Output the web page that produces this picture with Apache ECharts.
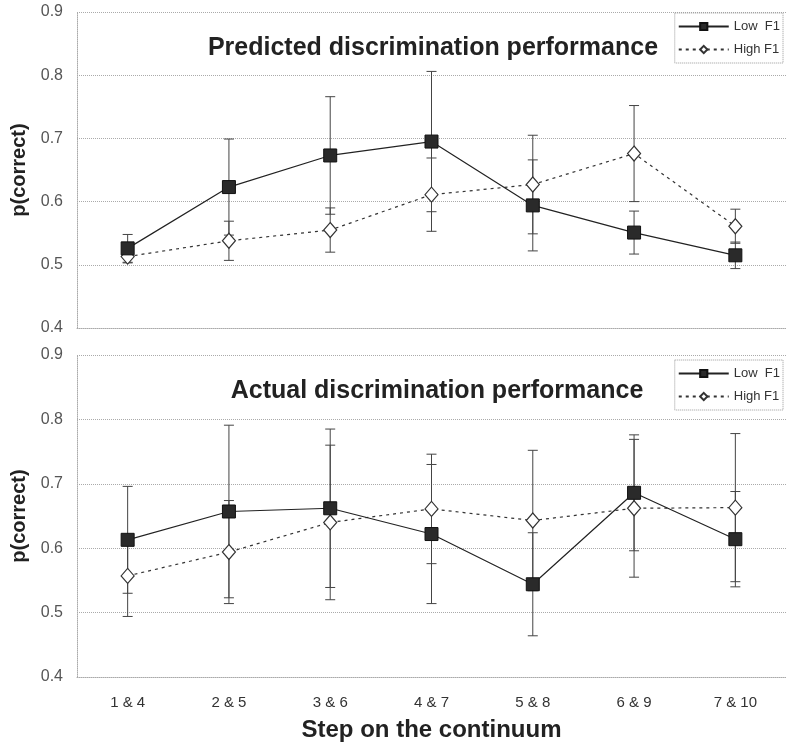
<!DOCTYPE html>
<html>
<head>
<meta charset="utf-8">
<script src="https://cdn.jsdelivr.net/npm/echarts@6/dist/echarts.min.js"></script>
<style>html,body{margin:0;padding:0;background:#fff;}#c{width:786px;height:745px;}</style>
</head>
<body>
<div id="c"></div>
<script>
const categories = ['1 & 4','2 & 5','3 & 6','4 & 7','5 & 8','6 & 9','7 & 10'];
const yTicks = [0.4, 0.5, 0.6, 0.7, 0.8, 0.9];
const predLow = [0.526, 0.623, 0.673, 0.695, 0.594, 0.551, 0.515];
const predLowErr = [0.022, 0.076, 0.093, 0.111, 0.072, 0.034, 0.021];
const predHigh = [0.513, 0.538, 0.555, 0.611, 0.627, 0.676, 0.561];
const predHighErr = [0.010, 0.031, 0.035, 0.058, 0.078, 0.076, 0.027];
const actLow = [0.613, 0.657, 0.662, 0.622, 0.544, 0.686, 0.614];
const actLowErr = [0.083, 0.134, 0.123, 0.108, 0.080, 0.090, 0.074];
const actHigh = [0.557, 0.594, 0.640, 0.661, 0.643, 0.662, 0.663];
const actHighErr = [0.063, 0.080, 0.120, 0.085, 0.109, 0.107, 0.115];

const FONT = 'Liberation Sans, Arial, sans-serif';
const chart = echarts.init(document.getElementById('c'), null, {renderer: 'canvas'});

function errData(vals, errs) { return vals.map((v, i) => [i, v - errs[i], v + errs[i]]); }
function errRender(params, api) {
  const x = api.value(0);
  const lo = api.coord([x, api.value(1)]);
  const hi = api.coord([x, api.value(2)]);
  const w = 5;
  const st = {stroke: '#444', lineWidth: 1};
  return {type: 'group', children: [
    {type: 'line', shape: {x1: lo[0], y1: lo[1], x2: hi[0], y2: hi[1]}, style: st},
    {type: 'line', shape: {x1: hi[0] - w, y1: hi[1], x2: hi[0] + w, y2: hi[1]}, style: st},
    {type: 'line', shape: {x1: lo[0] - w, y1: lo[1], x2: lo[0] + w, y2: lo[1]}, style: st}
  ]};
}
let errCount = 0;
function errSeries(idx, vals, errs) {
  errCount += 1;
  return {type: 'custom', name: 'err' + errCount, xAxisIndex: idx, yAxisIndex: idx,
    renderItem: errRender, data: errData(vals, errs), encode: {x: 0, y: [1, 2]}, z: 1, silent: true};
}
function lowSeries(idx, vals) {
  return {type: 'line', name: 'Low F1', xAxisIndex: idx, yAxisIndex: idx, data: vals,
    symbol: 'rect', symbolSize: 13, lineStyle: {color: '#222', width: 1.2, type: 'solid'},
    itemStyle: {color: '#2a2a2a', borderColor: '#111', borderWidth: 1}, z: 3};
}
function highSeries(idx, vals) {
  return {type: 'line', name: 'High F1', xAxisIndex: idx, yAxisIndex: idx, data: vals,
    symbol: 'diamond', symbolSize: [13, 15], lineStyle: {color: '#333', width: 1.2, type: [3, 4]},
    itemStyle: {color: '#fff', borderColor: '#333', borderWidth: 1.2}, z: 2};
}
function yAxis(idx) {
  return {type: 'value', gridIndex: idx, min: yTicks[0], max: yTicks[yTicks.length - 1], interval: 0.1,
    name: 'p(correct)', nameLocation: 'middle', nameGap: 45,
    nameTextStyle: {fontFamily: FONT, fontSize: 20, fontWeight: 'bold', color: '#222'},
    axisLine: {show: true, lineStyle: {color: '#aaa', type: 'dotted'}},
    axisTick: {show: false},
    axisLabel: {fontFamily: FONT, fontSize: 16, color: '#555', margin: 14, formatter: v => v.toFixed(1)},
    splitLine: {show: true, lineStyle: {color: '#aaa', type: 'dotted'}}};
}
function xAxis(idx, showLabels) {
  const a = {type: 'category', gridIndex: idx, data: categories, boundaryGap: true,
    axisLine: {show: true, lineStyle: {color: '#aaa', type: 'dotted'}},
    axisTick: {show: false},
    axisLabel: {show: showLabels, fontFamily: FONT, fontSize: 15, color: '#333', margin: 18}};
  if (showLabels) {
    a.name = 'Step on the continuum'; a.nameLocation = 'middle'; a.nameGap = 41;
    a.nameTextStyle = {fontFamily: FONT, fontSize: 24, fontWeight: 'bold', color: '#222'};
  }
  return a;
}
function legend(top) {
  return {orient: 'vertical', right: 3, top: top, data: ['Low F1', 'High F1'],
    itemWidth: 50, itemHeight: 9, itemGap: 10, padding: [7, 3, 7, 3],
    borderColor: '#999', borderWidth: 1, borderType: 'dotted',
    formatter: n => n === 'Low F1' ? 'Low  F1' : n,
    textStyle: {fontFamily: FONT, fontSize: 13, color: '#333'}};
}
const option = {
  animation: false,
  backgroundColor: '#fff',
  title: [
    {text: 'Predicted discrimination performance', left: 428, top: 31, textAlign: 'center',
      textStyle: {fontFamily: FONT, fontSize: 25, fontWeight: 'bold', color: '#222'}},
    {text: 'Actual discrimination performance', left: 432, top: 374, textAlign: 'center',
      textStyle: {fontFamily: FONT, fontSize: 25, fontWeight: 'bold', color: '#222'}}
  ],
  legend: [legend(13), legend(360)],
  grid: [
    {left: 77, right: 0, top: 12, height: 316, containLabel: false, outerBoundsMode: 'none'},
    {left: 77, right: 0, top: 355, height: 322, containLabel: false, outerBoundsMode: 'none'}
  ],
  xAxis: [xAxis(0, false), xAxis(1, true)],
  yAxis: [yAxis(0), yAxis(1)],
  series: [
    errSeries(0, predLow, predLowErr), errSeries(0, predHigh, predHighErr),
    lowSeries(0, predLow), highSeries(0, predHigh),
    errSeries(1, actLow, actLowErr), errSeries(1, actHigh, actHighErr),
    lowSeries(1, actLow), highSeries(1, actHigh)
  ]
};
chart.setOption(option);
</script>
</body>
</html>
